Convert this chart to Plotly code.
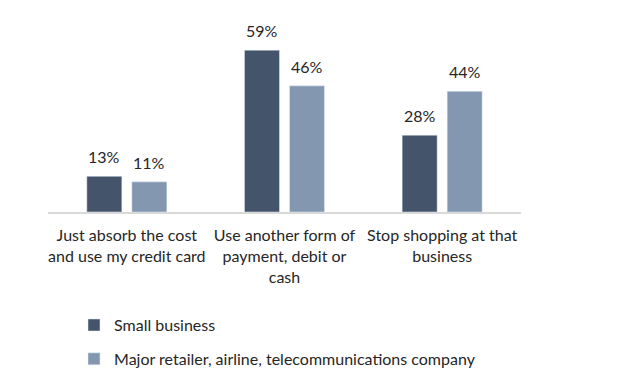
import plotly.graph_objects as go

categories = ["Just absorb the cost<br>and use my credit card",
              "Use another form of<br>payment, debit or<br>cash",
              "Stop shopping at that<br>business"]
small_business = [13, 59, 28]
major_retailer = [11, 46, 44]
series_names = ["Small business", "Major retailer, airline, telecommunications company"]
colors = ["#44546a", "#8497b0"]

FONT = "Lato, Open Sans, sans-serif"
TXT = "#262626"

fig = go.Figure()
for name, vals, col, grp in zip(series_names, [small_business, major_retailer], colors, ["a", "b"]):
    fig.add_trace(go.Bar(x=categories, y=vals, name=name, marker_color=col,
                         legendgroup=grp, hoverinfo="skip"))

annotations = []
for vals, shift in [(small_business, -22.5), (major_retailer, 22.5)]:
    for c, v in zip(categories, vals):
        annotations.append(dict(x=c, y=v, xref="x", yref="y", text=f"{v}%",
                                showarrow=False, yanchor="bottom", xshift=shift, yshift=8,
                                font=dict(family=FONT, size=16, color=TXT)))

# page body has an 8px margin, so the figure is 617x377 and offset accordingly
fig.update_layout(
    width=617, height=377,
    margin=dict(l=40, r=104, t=12, b=173, autoexpand=False),
    paper_bgcolor="white", plot_bgcolor="white",
    barmode="group", bargap=0.429, bargroupgap=0.222,
    font=dict(family=FONT, size=16, color=TXT),
    xaxis=dict(showline=True, linecolor="#d9d9d9", linewidth=2, ticks="", automargin=False,
               showgrid=False, tickfont=dict(size=16, color=TXT), ticklabelstandoff=8),
    yaxis=dict(range=[0, 70], visible=False, showgrid=False, automargin=False),
    showlegend=True,
    legend=dict(orientation="v", x=0.055, xanchor="left", xref="paper",
                y=0.204, yanchor="top", yref="container",
                font=dict(size=16, color=TXT), tracegroupgap=10, bgcolor="rgba(0,0,0,0)"),
    annotations=annotations,
)
fig.write_html("out.html")
